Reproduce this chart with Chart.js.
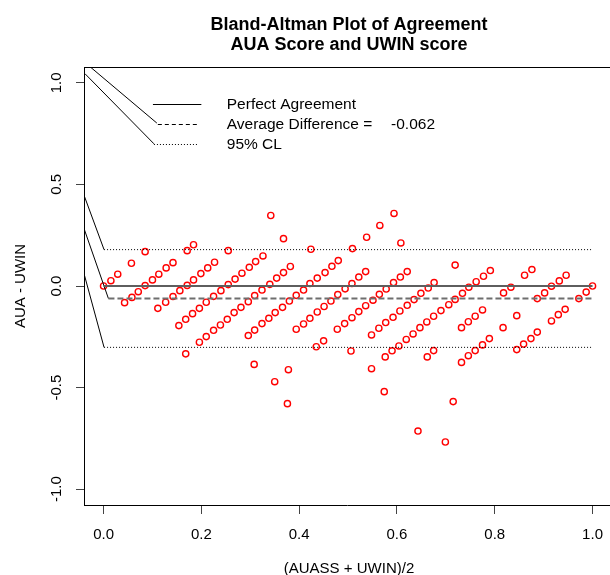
<!DOCTYPE html>
<html>
<head>
<meta charset="utf-8">
<script src="https://cdn.jsdelivr.net/npm/chart.js@4.4.1/dist/chart.umd.min.js"></script>
<style>
  html, body { margin: 0; padding: 0; background: #fff; }
  canvas { display: block; }
</style>
</head>
<body>
<canvas id="baChart" width="610" height="575"></canvas>
<script>
// ============ DATA ============
// mean of the two scores (x) and their difference (y)
const meanScore = [
  0.000, 0.015, 0.029, 0.057, 0.085, 0.171, 0.184, 0.043, 0.058, 0.071,
  0.085, 0.100, 0.113, 0.128, 0.142, 0.111, 0.127, 0.142, 0.156, 0.171,
  0.184, 0.199, 0.213, 0.227, 0.154, 0.168, 0.182, 0.196, 0.210, 0.225,
  0.240, 0.196, 0.210, 0.225, 0.239, 0.168, 0.255, 0.255, 0.269, 0.283,
  0.298, 0.311, 0.326, 0.253, 0.267, 0.281, 0.296, 0.309, 0.324, 0.340,
  0.354, 0.368, 0.382, 0.296, 0.309, 0.324, 0.338, 0.351, 0.366, 0.380,
  0.394, 0.409, 0.422, 0.437, 0.453, 0.467, 0.480, 0.394, 0.409, 0.422,
  0.437, 0.451, 0.465, 0.479, 0.494, 0.508, 0.435, 0.450, 0.478, 0.493,
  0.508, 0.368, 0.342, 0.424, 0.308, 0.378, 0.350, 0.376, 0.538, 0.608,
  0.509, 0.719, 0.522, 0.536, 0.522, 0.536, 0.551, 0.564, 0.578, 0.593,
  0.607, 0.621, 0.548, 0.563, 0.577, 0.592, 0.606, 0.621, 0.635, 0.649,
  0.664, 0.676, 0.506, 0.576, 0.590, 0.604, 0.619, 0.633, 0.647, 0.661,
  0.675, 0.690, 0.706, 0.719, 0.734, 0.747, 0.762, 0.662, 0.675, 0.732,
  0.746, 0.760, 0.594, 0.565, 0.548, 0.574, 0.777, 0.791, 0.861, 0.876,
  0.818, 0.833, 0.887, 0.902, 0.916, 0.932, 0.946, 0.972, 0.987, 1.000,
  0.775, 0.845, 0.817, 0.916, 0.930, 0.944, 0.775, 0.789, 0.845, 0.859,
  0.874, 0.887, 0.732, 0.746, 0.760, 0.643, 0.699, 0.715
];
const diffScore = [
  0.000, 0.026, 0.058, 0.112, 0.169, 0.174, 0.203, -0.082, -0.056, -0.028,
  0.002, 0.030, 0.058, 0.089, 0.115, -0.110, -0.080, -0.052, -0.023, 0.003,
  0.030, 0.061, 0.089, 0.117, -0.195, -0.164, -0.136, -0.110, -0.080, -0.051,
  -0.023, -0.277, -0.249, -0.218, -0.192, -0.334, 0.174, 0.007, 0.034, 0.063,
  0.092, 0.120, 0.148, -0.164, -0.131, -0.105, -0.077, -0.047, -0.020, 0.008,
  0.039, 0.066, 0.096, -0.244, -0.217, -0.185, -0.159, -0.131, -0.105, -0.074,
  -0.046, -0.020, 0.012, 0.039, 0.066, 0.097, 0.125, -0.213, -0.187, -0.159,
  -0.128, -0.101, -0.074, -0.042, -0.014, 0.012, -0.299, -0.270, -0.213, -0.185,
  -0.156, 0.233, 0.347, 0.181, -0.386, -0.412, -0.471, -0.579, 0.240, 0.212,
  0.184, 0.103, 0.044, 0.071, -0.126, -0.097, -0.070, -0.041, -0.015, 0.017,
  0.044, 0.071, -0.241, -0.208, -0.180, -0.154, -0.123, -0.095, -0.067, -0.036,
  -0.010, 0.017, -0.320, -0.349, -0.319, -0.295, -0.263, -0.236, -0.205, -0.177,
  -0.149, -0.121, -0.092, -0.066, -0.036, -0.006, 0.021, -0.349, -0.318, -0.205,
  -0.176, -0.149, 0.357, 0.298, -0.407, -0.520, 0.048, 0.076, 0.053, 0.081,
  -0.034, -0.006, -0.062, -0.034, -0.001, 0.025, 0.053, -0.062, -0.030, 0.000,
  -0.118, -0.146, -0.205, -0.172, -0.141, -0.115, -0.290, -0.259, -0.313, -0.286,
  -0.259, -0.227, -0.376, -0.343, -0.318, -0.714, -0.768, -0.569
];

const xTicks = [0, 0.2, 0.4, 0.6, 0.8, 1.0];
const yTicks = [-1, -0.5, 0, 0.5, 1];

const perfectAgreement = 0;
const averageDifference = -0.062;
const upperCL = 0.179;
const lowerCL = -0.302;

// stray connector segments in the original (from the axis edge to the line starts)
const connectorFrom = [
  { x: -0.04, y: 0.447 }, { x: -0.04, y: 0.283 }, { x: -0.04, y: 0.061 },
  { x: -0.027, y: 1.078 }, { x: -0.038, y: 1.045 }
];
const connectorTo = [
  { x: 0.001, y: 0.179 }, { x: 0.010, y: -0.062 }, { x: 0.001, y: -0.302 },
  { x: 0.109, y: 0.802 }, { x: 0.103, y: 0.700 }
];

const FONT = "'Liberation Sans', Arial, Helvetica, sans-serif";

// ============ DATASETS ============
const points = meanScore.map((m, i) => ({ x: m, y: diffScore[i] }));

function hLine(y, x0, x1) {
  return [{ x: x0, y: y }, { x: x1, y: y }];
}

function lineSet(data, color, width, dash) {
  return {
    data,
    showLine: true,
    borderColor: color,
    borderWidth: width,
    borderDash: dash || [],
    pointRadius: 0,
    pointHoverRadius: 0,
    fill: false,
    order: 1
  };
}

const datasets = [
  {
    data: points,
    pointStyle: "circle",
    pointRadius: 3.1,
    pointBorderWidth: 1.4,
    pointBorderColor: "#ff0000",
    pointBackgroundColor: "rgba(0,0,0,0)",
    showLine: false,
    order: 2
  },
  lineSet(hLine(perfectAgreement, 0, 1), "#5e5e5e", 2),
  lineSet(hLine(averageDifference, 0.01, 1), "#6e6e6e", 2, [6, 3]),
  lineSet(hLine(upperCL, 0.001, 1), "#000", 1, [1, 2]),
  lineSet(hLine(lowerCL, 0.001, 1), "#000", 1, [1, 2])
];
connectorFrom.forEach((p, i) => datasets.push(lineSet([p, connectorTo[i]], "#000", 1)));

// ============ TEXT, LEGEND, FRAME ============
const rDecor = {
  id: "rDecor",
  afterDraw(chart) {
    const ctx = chart.ctx;
    const xs = chart.scales.x;
    const ys = chart.scales.y;
    const a = chart.chartArea;
    ctx.save();

    // top frame line
    ctx.strokeStyle = "#000";
    ctx.lineWidth = 1;
    ctx.beginPath();
    ctx.moveTo(a.left, Math.round(a.top) + 0.5);
    ctx.lineTo(a.right, Math.round(a.top) + 0.5);
    ctx.stroke();

    // title
    ctx.fillStyle = "#000";
    ctx.textAlign = "center";
    ctx.textBaseline = "alphabetic";
    ctx.font = "bold 18px " + FONT;
    ctx.fillText("Bland-Altman Plot of Agreement", 349, 29.5);
    ctx.fillText("AUA Score and UWIN score", 349, 50);

    // y tick labels, rotated like R
    ctx.font = "15px " + FONT;
    yTicks.forEach((v) => {
      ctx.save();
      ctx.translate(61, ys.getPixelForValue(v));
      ctx.rotate(-Math.PI / 2);
      ctx.fillText(v.toFixed(1), 0, 0);
      ctx.restore();
    });

    // axis titles
    ctx.save();
    ctx.translate(25, (a.top + a.bottom) / 2);
    ctx.rotate(-Math.PI / 2);
    ctx.fillText("AUA - UWIN", 0, 0);
    ctx.restore();
    ctx.fillText("(AUASS + UWIN)/2", 349, 573);

    // legend
    const legendRows = [
      { y: 0.895, x0: 0.101, x1: 0.200, dash: [], label: "Perfect Agreement" },
      { y: 0.796, x0: 0.111, x1: 0.194, dash: [4, 3], label: "Average Difference =" },
      { y: 0.698, x0: 0.103, x1: 0.193, dash: [1, 2], label: "95% CL" }
    ];
    ctx.textAlign = "left";
    ctx.textBaseline = "middle";
    ctx.font = "15.5px " + FONT;
    legendRows.forEach((r) => {
      const py = Math.round(ys.getPixelForValue(r.y)) + 0.5;
      ctx.setLineDash(r.dash);
      ctx.beginPath();
      ctx.moveTo(xs.getPixelForValue(r.x0), py);
      ctx.lineTo(xs.getPixelForValue(r.x1), py);
      ctx.stroke();
      ctx.fillText(r.label, xs.getPixelForValue(0.252), py);
    });
    ctx.setLineDash([]);
    ctx.fillText(averageDifference.toFixed(3), xs.getPixelForValue(0.588), Math.round(ys.getPixelForValue(0.796)) + 0.5);

    ctx.restore();
  }
};

// ============ CHART ============
new Chart(document.getElementById("baChart"), {
  type: "scatter",
  data: { datasets },
  plugins: [rDecor],
  options: {
    responsive: false,
    animation: false,
    devicePixelRatio: 1,
    layout: { autoPadding: false, padding: { top: 67, left: 0, right: 0, bottom: 0 } },
    plugins: {
      legend: { display: false },
      title: { display: false },
      tooltip: { enabled: false }
    },
    scales: {
      x: {
        type: "linear",
        min: -0.04,
        max: 1.0357,
        afterBuildTicks: (s) => { s.ticks = xTicks.map((v) => ({ value: v })); },
        afterFit: (s) => {
          s.height = 70;
          s.paddingLeft = 0;
          s.paddingRight = 0;
        },
        grid: { display: true, drawOnChartArea: false, drawTicks: true, tickLength: 9, color: "#444" },
        border: { display: true, color: "#000", width: 1 },
        ticks: {
          color: "#000",
          padding: 12,
          maxRotation: 0,
          font: { family: FONT, size: 15 },
          callback: (v) => Number(v).toFixed(1)
        }
      },
      y: {
        type: "linear",
        min: -1.078,
        max: 1.078,
        afterBuildTicks: (s) => { s.ticks = yTicks.map((v) => ({ value: v })); },
        afterFit: (s) => {
          s.width = 84;
          s.paddingTop = 0;
          s.paddingBottom = 0;
        },
        grid: { display: true, drawOnChartArea: false, drawTicks: true, tickLength: 8, color: "#444" },
        border: { display: true, color: "#000", width: 1 },
        ticks: { display: false }
      }
    }
  }
});
</script>
</body>
</html>
